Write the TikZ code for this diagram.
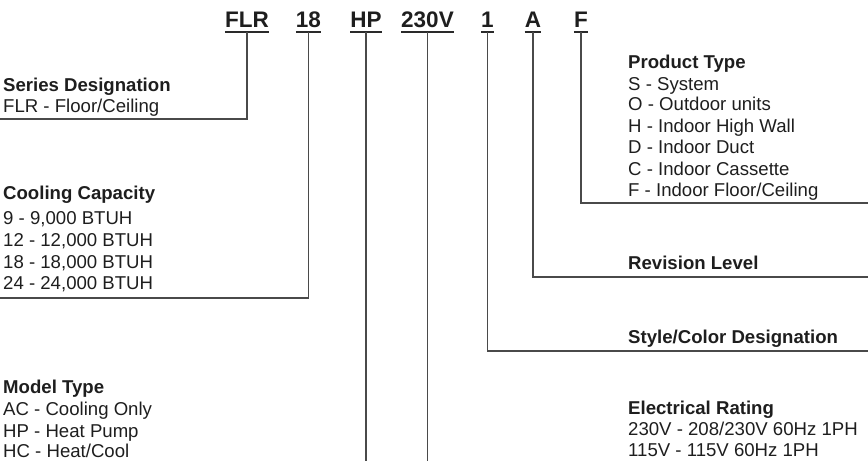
\documentclass[tikz,border=0pt]{standalone}
\usepackage{fontspec}
\setmainfont{Liberation Sans}
\definecolor{txt}{HTML}{1E1E1E}
\definecolor{ln}{HTML}{4A4A4A}
\definecolor{ul}{HTML}{2A2A2A}
\begin{document}
\begin{tikzpicture}[x=1pt,y=-1pt,
  code/.style={inner sep=0pt,anchor=base,text=txt,font=\fontsize{22.5}{26}\selectfont\bfseries},
  head/.style={inner sep=0pt,anchor=base west,text=txt,font=\fontsize{18.6}{21}\selectfont\bfseries},
  item/.style={inner sep=0pt,anchor=base west,text=txt,font=\fontsize{18.6}{21}\selectfont},
  conn/.style={draw=ln,line width=1.3pt},
  uline/.style={draw=ul,line width=1.6pt}]
\useasboundingbox (0,0) rectangle (868,461);
% code letters
\node[code] (cFLR) at (247,27) {FLR};
\node[code] (c18) at (308.5,27) {18};
\node[code] (cHP) at (366,27) {HP};
\node[code] (c230) at (427.5,27) {230V};
\node[code] (c1) at (487.5,27) {1};
\node[code] (cA) at (533,27) {A};
\node[code] (cF) at (581,27) {F};
\foreach \n in {cFLR,c18,cHP,c230,c1,cA,cF}{
  \draw[uline] ([yshift=-5pt]\n.base west) -- ([yshift=-5pt]\n.base east);
  \coordinate (\n-u) at ([yshift=-5pt]\n.base);
}
% end points
\coordinate (eFLR) at (0,119);
\coordinate (e18) at (0,298);
\coordinate (eHP) at (366,461);
\coordinate (e230) at (428,461);
\coordinate (e1) at (868,351);
\coordinate (eA) at (868,277);
\coordinate (eF) at (868,203);
\draw[conn] (cFLR-u) |- (eFLR);
\draw[conn] (c18-u) |- (e18);
\draw[conn] (cHP-u) -- (cHP-u |- eHP);
\draw[conn] (c230-u) -- (c230-u |- e230);
\draw[conn] (c1-u) |- (e1);
\draw[conn] (cA-u) |- (eA);
\draw[conn] (cF-u) |- (eF);
% left texts
\node[head] (sdH) at (3,91) {Series Designation};
\node[item] (sd1) at (3,112) {FLR - Floor/Ceiling};
\node[head] (ccH) at (3,199) {Cooling Capacity};
\node[item] (cc1) at (3,224) {9 - 9,000 BTUH};
\node[item] (cc2) at (3,246) {12 - 12,000 BTUH};
\node[item] (cc3) at (3,268) {18 - 18,000 BTUH};
\node[item] (cc4) at (3,289) {24 - 24,000 BTUH};
\node[head] (mtH) at (3,393) {Model Type};
\node[item] (mt1) at (3,415) {AC - Cooling Only};
\node[item] (mt2) at (3,437) {HP - Heat Pump};
\node[item] (mt3) at (3,457) {HC - Heat/Cool};
% right texts
\node[head] (ptH) at (628,68) {Product Type};
\node[item] (pt1) at (628,90) {S - System};
\node[item] (pt2) at (628,110) {O - Outdoor units};
\node[item] (pt3) at (628,132) {H - Indoor High Wall};
\node[item] (pt4) at (628,153) {D - Indoor Duct};
\node[item] (pt5) at (628,175) {C - Indoor Cassette};
\node[item] (pt6) at (628,196) {F - Indoor Floor/Ceiling};
\node[head] (rl) at (628,269) {Revision Level};
\node[head] (sc) at (628,343) {Style/Color Designation};
\node[head] (erH) at (628,414) {Electrical Rating};
\node[item] (er1) at (628,435) {230V - 208/230V 60Hz 1PH};
\node[item] (er2) at (628,456) {115V - 115V 60Hz 1PH};
\end{tikzpicture}
\end{document}
